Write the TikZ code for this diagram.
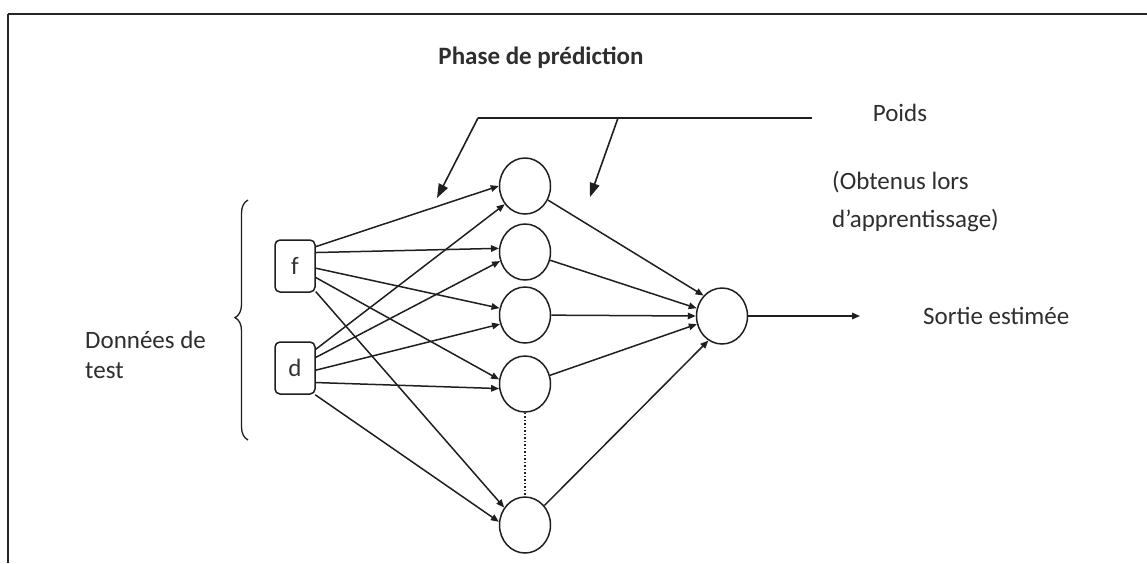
\documentclass[tikz,border=0pt]{standalone}
\usepackage{fontspec}
\setmainfont{Carlito}
\usetikzlibrary{arrows.meta,shapes.geometric,decorations.pathreplacing}
\begin{document}
\begin{tikzpicture}[x=1pt,y=-1pt,
  ink/.style={draw=black!88,line width=1.5pt},
  neuron/.style={ink,ellipse,minimum width=51pt,minimum height=56pt,inner sep=0pt},
  inbox/.style={ink,rounded corners=5pt,minimum width=40pt,minimum height=52pt,inner sep=0pt,
    font=\fontsize{25}{28}\selectfont,text=black!80},
  link/.style={ink,-{Triangle[length=8pt,width=6.5pt]}},
  weight/.style={ink,line width=1.6pt,-{Triangle[length=14pt,width=10pt]}},
  lbl/.style={inner sep=0pt,font=\fontsize{25}{30}\selectfont,text=black!82},
  frame/.style={draw=black!85}
]
\useasboundingbox (0,0) rectangle (1147,563);

% page edges
\draw[frame,line width=2.2pt] (8,14) -- (1147,14);
\draw[frame,line width=1.6pt] (8,14) -- (8,563);

% title
\node[lbl,font=\fontsize{25}{30}\selectfont\bfseries] (title) at (541,58) {Phase de prédiction};

% inputs
\node[inbox] (f) at (295,266) {f};
\node[inbox] (d) at (295,368) {d};

% hidden layer
\node[neuron] (h1) at (525,186) {};
\node[neuron] (h2) at (525,252) {};
\node[neuron] (h3) at (525,315) {};
\node[neuron] (h4) at (525,384) {};
\node[neuron] (h5) at (525,525) {};

% output neuron
\node[neuron] (out) at (722,316) {};

% labels
\node[lbl,anchor=west,align=left] (data) at (85,355) {Données de\\test};
\node[lbl] (poids) at (900,113) {Poids};
\node[lbl,anchor=west,align=left,font=\fontsize{25}{38}\selectfont] (obt) at (832,202) {(Obtenus lors\\d’apprentissage)};
\node[lbl,anchor=west] (sortie) at (923,316) {Sortie estimée};
\coordinate (res) at (860,316);

% brace grouping the test data
\draw[ink,line width=1.3pt,decorate,decoration={brace,amplitude=13pt,aspect=0.51}] (248,440) -- (248,200);

% input -> hidden
\draw[link] (f.43)  -- (h1.180);
\draw[link] (f.33)  -- (h2.172);
\draw[link] (f.354) -- (h3.165);
\draw[link] (f.331) -- (h4.170);
\draw[link] (f.309) -- (h5.140);
\draw[link] (d.42)  -- (h1.222);
\draw[link] (d.27)  -- (h2.200);
\draw[link] (d.354) -- (h3.200);
\draw[link] (d.325) -- (h4.190);
\draw[link] (d.307) -- (h5.173);

% hidden -> output
\draw[link] (h1) -- (out.132);
\draw[link] (h2) -- (out.163);
\draw[link] (h3) -- (out.180);
\draw[link] (h4) -- (out.198);
\draw[link] (h5) -- (out.241);
\draw[link] (out) -- (res);

% omitted neurons
\draw[ink,dotted,line width=1.5pt] (h4.south) -- (h5.north);

% weights pointer
\coordinate (wA) at (478,118);
\coordinate (wB) at (618,118);
\coordinate (wC) at (812,118);
\coordinate (tA) at (437,198);
\coordinate (tB) at (590,197);
\draw[ink] (wC) -- (wA);
\draw[weight] (wA) -- (tA);
\draw[weight] (wB) -- (tB);
\end{tikzpicture}
\end{document}
